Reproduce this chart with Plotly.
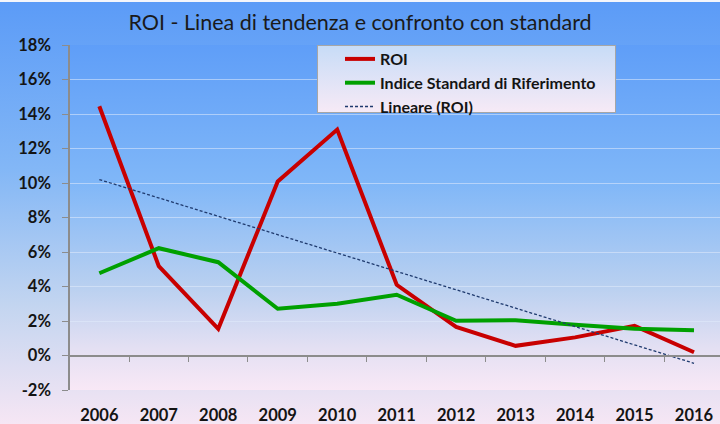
import base64
import plotly.graph_objects as go

# ---------------- data ----------------
years = [2006, 2007, 2008, 2009, 2010, 2011, 2012, 2013, 2014, 2015, 2016]
year_labels = [str(y) for y in years]
roi = [14.45, 5.18, 1.55, 10.09, 13.10, 4.10, 1.66, 0.56, 1.05, 1.72, 0.19]
std_index = [4.77, 6.22, 5.41, 2.71, 3.00, 3.52, 2.01, 2.05, 1.78, 1.55, 1.47]
trend_years = [2006, 2016]
trend_vals = [10.2, -0.45]
y_ticks = [-2, 0, 2, 4, 6, 8, 10, 12, 14, 16, 18]
y_tick_labels = ["-2%", "0%", "2%", "4%", "6%", "8%", "10%", "12%", "14%", "16%", "18%"]
boundaries = [2006.5, 2007.5, 2008.5, 2009.5, 2010.5, 2011.5, 2012.5, 2013.5, 2014.5, 2015.5]

names = ["ROI", "Indice Standard di Riferimento", "Lineare (ROI)"]
title_text = "ROI - Linea di tendenza e confronto con standard"

# ---------------- geometry ----------------
W, H = 720, 424
ML, MR, MT, MB = 70, 0, 45, 34
PW, PH = W - ML - MR, H - MT - MB
x_range = [2005.507, 2016.437]
y_range = [-2, 18]


def px_x(px):
    return (px - ML) / PW


def px_y(py):
    return (H - MB - py) / PH


def svg_uri(svg):
    return "data:image/svg+xml;base64," + base64.b64encode(svg.encode()).decode()


paper_svg = f"""<svg xmlns='http://www.w3.org/2000/svg' width='{W}' height='{H}' viewBox='0 0 {W} {H}' preserveAspectRatio='none'>
<defs><linearGradient id='g' x1='0' y1='0' x2='0' y2='1'>
<stop offset='0' stop-color='#5b9bf7'/>
<stop offset='0.40' stop-color='#83b7f6'/>
<stop offset='0.72' stop-color='#c3d5f0'/>
<stop offset='1' stop-color='#f6e6f4'/>
</linearGradient></defs>
<rect x='0' y='0' width='{W}' height='{H}' fill='url(#g)'/>
<rect x='0' y='0' width='{W}' height='2' fill='#f4f6fb'/>
</svg>"""

plot_svg = """<svg xmlns='http://www.w3.org/2000/svg' width='100' height='100' viewBox='0 0 100 100' preserveAspectRatio='none'>
<defs><linearGradient id='g' x1='0' y1='0' x2='0' y2='1'>
<stop offset='0' stop-color='#5f9ef8'/>
<stop offset='0.40' stop-color='#80b7f8'/>
<stop offset='0.70' stop-color='#b9d0f0'/>
<stop offset='0.88' stop-color='#e4e0f3'/>
<stop offset='1' stop-color='#f8e8f6'/>
</linearGradient></defs>
<rect x='0' y='0' width='100' height='100' fill='url(#g)'/>
</svg>"""

LX0, LX1, LY0, LY1 = 317, 616, 45, 113
legend_svg = f"""<svg xmlns='http://www.w3.org/2000/svg' width='{LX1-LX0}' height='{LY1-LY0}' viewBox='0 0 {LX1-LX0} {LY1-LY0}' preserveAspectRatio='none'>
<defs><linearGradient id='g' x1='0' y1='0' x2='0' y2='1'>
<stop offset='0' stop-color='#c7dcf7'/>
<stop offset='1' stop-color='#f7eaf6'/>
</linearGradient></defs>
<rect x='0.5' y='0.5' width='{LX1-LX0-1}' height='{LY1-LY0-1}' fill='url(#g)' stroke='#a6a6a6' stroke-width='1'/>
</svg>"""

fig = go.Figure()

fig.add_trace(go.Scatter(x=years, y=roi, mode="lines", name=names[0],
                         line=dict(color="#c80000", width=4)))
fig.add_trace(go.Scatter(x=years, y=std_index, mode="lines", name=names[1],
                         line=dict(color="#00a000", width=4)))
fig.add_trace(go.Scatter(x=trend_years, y=trend_vals, mode="lines", name=names[2],
                         xaxis="x2",
                         line=dict(color="#1f3a6e", width=1.3, dash="3px,2px")))

bold = dict(family="Lato, 'Open Sans', sans-serif", size=16.5, color="#141414", weight="bold")

fig.update_layout(
    width=W, height=H,
    margin=dict(l=ML, r=MR, t=MT, b=MB),
    paper_bgcolor="#9cc2f4",
    plot_bgcolor="rgba(0,0,0,0)",
    title=dict(text=title_text, x=0.5, xref="container", xanchor="center",
               y=1 - 22 / H, yref="container", yanchor="middle",
               font=dict(family="Lato, sans-serif", size=21.5, color="#1a1a1a")),
    showlegend=True,
    legend=dict(x=px_x(340), y=px_y(42), xanchor="left", yanchor="top",
                bgcolor="rgba(0,0,0,0)", borderwidth=0,
                font=dict(family="Lato, sans-serif", size=16, color="#141414", weight="bold"),
                traceorder="normal"),
    xaxis=dict(range=x_range, tickvals=years, ticktext=year_labels,
               showgrid=False, zeroline=False, showline=False, ticks="",
               tickfont=bold, ticklabelstandoff=13, fixedrange=True),
    xaxis2=dict(range=x_range, overlaying="x", anchor="free",
                position=(0 - y_range[0]) / (y_range[1] - y_range[0]),
                tickvals=boundaries, showticklabels=False, ticks="outside",
                ticklen=6, tickwidth=1.2, tickcolor="#8c8c8c",
                showline=True, linecolor="#8c8c8c", linewidth=1.5,
                showgrid=False, zeroline=False, fixedrange=True),
    yaxis=dict(range=y_range, tickvals=y_ticks, ticktext=y_tick_labels,
               showgrid=True, gridcolor="rgba(225,235,252,0.55)", gridwidth=1,
               zeroline=False, showline=True, linecolor="#8c8c8c", linewidth=1.5,
               ticks="outside", ticklen=6, tickcolor="#8c8c8c", tickwidth=1.2,
               tickfont=bold, ticklabelstandoff=8, fixedrange=True),
    images=[
        dict(source=svg_uri(paper_svg), xref="paper", yref="paper",
             x=px_x(0), y=px_y(0), sizex=W / PW, sizey=H / PH,
             xanchor="left", yanchor="top", sizing="stretch", layer="below"),
        dict(source=svg_uri(plot_svg), xref="paper", yref="paper",
             x=0, y=1, sizex=1, sizey=1,
             xanchor="left", yanchor="top", sizing="stretch", layer="below"),
        dict(source=svg_uri(legend_svg), xref="paper", yref="paper",
             x=px_x(LX0), y=px_y(LY0), sizex=(LX1 - LX0) / PW, sizey=(LY1 - LY0) / PH,
             xanchor="left", yanchor="top", sizing="stretch", layer="above"),
    ],
)

fig.write_html("out.html", config={"displayModeBar": False},
               post_script="document.body.style.margin='0';document.body.style.padding='0';")
